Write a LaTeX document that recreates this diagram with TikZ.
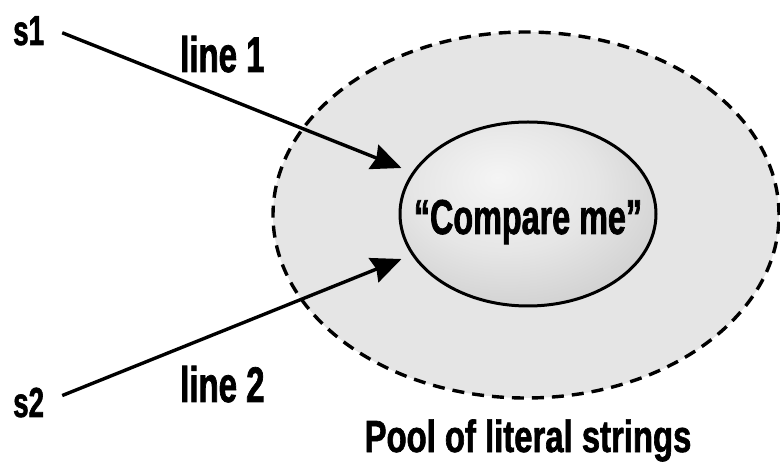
\documentclass[tikz,border=0pt]{standalone}
\usepackage{fontspec}
\newfontfamily\cfont[FakeStretch=0.66,FakeBold=1.4]{Liberation Sans}
\newfontfamily\pfont[FakeStretch=0.73,FakeBold=1.4]{Liberation Sans}
\usetikzlibrary{arrows.meta,shapes.geometric}
\pgfdeclareradialshading{innerball}{\pgfpoint{-6bp}{10bp}}{color(0bp)=(black!4); color(18bp)=(black!10); color(50bp)=(black!28); color(75bp)=(black!32)}
\tikzset{
  poolel/.style={ellipse, draw=black, line width=3.4pt, dash pattern=on 12pt off 8pt, fill=black!10, minimum width=506pt, minimum height=366pt, inner sep=0pt},
  innerel/.style={ellipse, draw=black, line width=3pt, shading=innerball, minimum width=256pt, minimum height=184pt, inner sep=0pt},
  cmlab/.style={inner sep=0pt, font=\cfont\bfseries\fontsize{49}{50}\selectfont, text depth=0pt, text height=35pt, yshift=-2.5pt},
  varlab/.style={inner sep=0pt, anchor=base west, font=\cfont\bfseries\fontsize{42}{44}\selectfont},
  linelab/.style={inner sep=0pt, anchor=base west, font=\cfont\bfseries\fontsize{50}{52}\selectfont},
  poollab/.style={inner sep=0pt, anchor=base, font=\pfont\bfseries\fontsize{45}{47}\selectfont},
  conn/.style={line width=3.4pt, -{Stealth[length=30pt,width=26pt,inset=3pt]}}
}
\begin{document}
\begin{tikzpicture}[x=1pt,y=1pt]
\useasboundingbox (0,0) rectangle (780,464);
\node[poolel] (pool) at (526,249) {};
\node[innerel, label={[cmlab]center:“Compare me”}] (cm) at (528,250) {};
\node[varlab] (s1) at (13,419) {s1};
\node[varlab] (s2) at (13,47) {s2};
\node[linelab] (l1) at (180,392) {line 1};
\node[linelab] (l2) at (180,62) {line 2};
\node[poollab] (pl) at (528,12) {Pool of literal strings};
\coordinate (t1) at (401.5,296);
\coordinate (t2) at (401.5,205);
\draw[conn] ([shift={(18pt,-2pt)}]s1.east) -- (t1);
\draw[conn] ([shift={(18pt,7pt)}]s2.east) -- (t2);
\end{tikzpicture}
\end{document}
